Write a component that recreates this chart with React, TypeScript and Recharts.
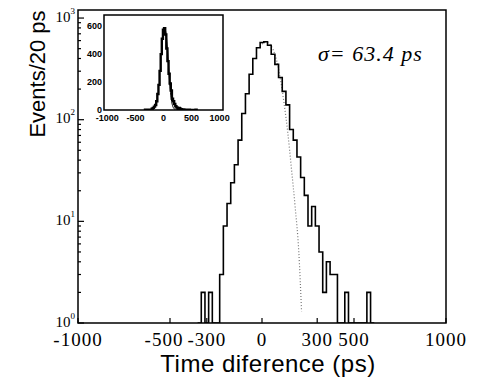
import { ComposedChart, LineChart, Line, XAxis, YAxis, ReferenceArea } from "recharts";

// histogram bins, 20 ps wide (left edge of each bin, last entry closes the final bin)
const binStarts = [
  -350, -330, -310, -290, -270, -250, -230, -210, -190, -170, -150, -130, -110, -90,
  -70, -50, -30, -10, 10, 30, 50, 70, 90, 110, 130, 150, 170, 190, 210, 230, 250,
  270, 290, 310, 330, 350, 370, 390, 410, 430, 450, 470, 490, 510, 530, 550, 570,
  590, 610
];
const counts = [
  1, 2, 1, 2, 1, 1, 3, 9, 15, 24, 36, 63, 115, 180,
  280, 400, 510, 575, 585, 540, 440, 350, 260, 190, 140, 80, 63, 43, 27, 18, 9,
  14, 9, 5, 2, 4, 3, 3, 1, 1, 2, 1, 1, 1, 1, 1, 2,
  1, 1
];

// gaussian fit (dotted), only the part that shows to the right of the peak
const fitTimes = [0, 20, 40, 60, 80, 100, 120, 140, 160, 180, 200, 215];
const fitValues = [555, 580, 560, 490, 380, 250, 145, 75, 33, 14, 5, 1.3];

const xTicks = [-1000, -500, -300, 0, 300, 500, 1000];
const yTicks = [
  1, 2, 3, 4, 5, 6, 7, 8, 9, 10, 20, 30, 40, 50, 60, 70, 80, 90,
  100, 200, 300, 400, 500, 600, 700, 800, 900, 1000
];
const insetXTicks = [-1000, -500, 0, 500, 1000];
const insetYTicks = [0, 200, 400, 600];

const histData = binStarts.map((t, i) => ({ t, n: counts[i] }));
const fitData = fitTimes.map((t, i) => ({ t, f: fitValues[i] }));

const SERIF = "'Liberation Serif', 'Times New Roman', serif";
const SANS = "'Liberation Sans', Arial, sans-serif";
const Y_GAP = 3;

const LogTick = (props: any) => {
  const { x, y, payload } = props;
  const lg = Math.log10(payload.value);
  const exp = Math.round(lg);
  const major = Math.abs(lg - exp) < 1e-6;
  const edge = x + Y_GAP;
  return (
    <g>
      <line x1={edge} x2={edge + (major ? 6 : 3)} y1={y} y2={y} stroke="#000" strokeWidth={1.2} />
      {major && (
        <text x={x} y={y + 3.5} textAnchor="end" fontFamily={SERIF} fontSize={15} fill="#000">
          10<tspan dy={-8} fontSize={9}>{exp}</tspan>
        </text>
      )}
    </g>
  );
};

// the -500 label sits a bit left of its tick in the original
const labelShift: Record<number, number> = { [-500]: -6 };

const TimeTick = (props: any) => {
  const { x, y, payload } = props;
  return (
    <g>
      <line x1={x} x2={x} y1={y} y2={y - 5} stroke="#000" strokeWidth={1.2} />
      <text
        x={x + (labelShift[payload.value] || 0)}
        y={y + 23}
        textAnchor="middle"
        fontFamily={SERIF}
        fontSize={19}
        letterSpacing={1}
        fill="#000"
      >
        {payload.value}
      </text>
    </g>
  );
};

const InsetYTick = (props: any) => {
  const { x, y, payload } = props;
  return (
    <text x={x} y={y + 2.5} textAnchor="end" fontFamily={SANS} fontWeight="bold" fontSize={9} fill="#000">
      {payload.value}
    </text>
  );
};

const InsetXTick = (props: any) => {
  const { x, y, payload } = props;
  return (
    <text x={x} y={y + 11} textAnchor="middle" fontFamily={SANS} fontWeight="bold" fontSize={9} fill="#000">
      {payload.value}
    </text>
  );
};

export default function App() {
  return (
    <div style={{ position: "absolute", left: 0, top: 0, width: 477, height: 382, background: "#fff" }}>
      <ComposedChart width={477} height={382} margin={{ top: 10, right: 31, bottom: 29, left: 0 }}>
        <XAxis
          dataKey="t"
          type="number"
          domain={[-1000, 1000]}
          ticks={xTicks}
          interval={0}
          axisLine={false}
          tickLine={false}
          tickSize={0}
          tickMargin={0}
          height={30}
          tick={<TimeTick />}
          label={{
            content: (p: any) => (
              <text
                x={p.viewBox.x + p.viewBox.width / 2 + 6}
                y={p.viewBox.y + 49}
                textAnchor="middle"
                fontFamily={SANS}
                fontSize={24}
                letterSpacing={0.5}
                fill="#000"
              >
                Time diference (ps)
              </text>
            )
          }}
        />
        <YAxis
          scale="log"
          domain={[1, 1200]}
          allowDataOverflow
          ticks={yTicks}
          interval={0}
          axisLine={false}
          tickLine={false}
          tickSize={0}
          tickMargin={Y_GAP}
          width={78}
          tick={<LogTick />}
          label={{
            content: (p: any) => {
              const cx = p.viewBox.x + 45;
              const cy = p.viewBox.y + 64;
              return (
                <text
                  x={cx}
                  y={cy}
                  transform={`rotate(-90, ${cx}, ${cy})`}
                  textAnchor="middle"
                  fontFamily={SANS}
                  fontSize={22}
                  fill="#000"
                >
                  Events/20 ps
                </text>
              );
            }
          }}
        />
        <ReferenceArea x1={-1000} x2={1000} y1={1} y2={1200} fill="none" stroke="#000" strokeWidth={1.5} />
        <Line
          data={fitData}
          dataKey="f"
          type="monotone"
          stroke="#777"
          strokeWidth={1.2}
          strokeDasharray="1 2"
          dot={false}
          isAnimationActive={false}
        />
        <Line
          data={histData}
          dataKey="n"
          type="stepAfter"
          stroke="#000"
          strokeWidth={1.6}
          dot={false}
          isAnimationActive={false}
        />
      </ComposedChart>

      <div
        style={{
          position: "absolute",
          left: 318,
          top: 43,
          fontFamily: SERIF,
          fontStyle: "italic",
          fontSize: 22,
          lineHeight: "22px",
          letterSpacing: 1,
          whiteSpace: "nowrap"
        }}
      >
        σ= 63.4 ps
      </div>

      <div style={{ position: "absolute", left: 80, top: 13 }}>
        <LineChart width={155} height={109} margin={{ top: 2, right: 12, bottom: 0, left: 0 }}>
          <XAxis
            dataKey="t"
            type="number"
            domain={[-1060, 1060]}
            ticks={insetXTicks}
            interval={0}
            axisLine={false}
            tickLine={false}
            tickSize={0}
            tickMargin={0}
            height={12}
            tick={<InsetXTick />}
          />
          <YAxis
            domain={[0, 680]}
            allowDataOverflow
            ticks={insetYTicks}
            interval={0}
            axisLine={false}
            tickLine={false}
            tickSize={0}
            tickMargin={2}
            width={24}
            tick={<InsetYTick />}
          />
          <ReferenceArea x1={-1060} x2={1060} y1={0} y2={680} fill="none" stroke="#000" strokeWidth={1.5} />
          <Line
            data={fitData}
            dataKey="f"
            type="monotone"
            stroke="#000"
            strokeWidth={1}
            dot={false}
            isAnimationActive={false}
          />
          <Line
            data={histData}
            dataKey="n"
            type="stepAfter"
            stroke="#000"
            strokeWidth={2.4}
            dot={false}
            isAnimationActive={false}
          />
        </LineChart>
      </div>
    </div>
  );
}
